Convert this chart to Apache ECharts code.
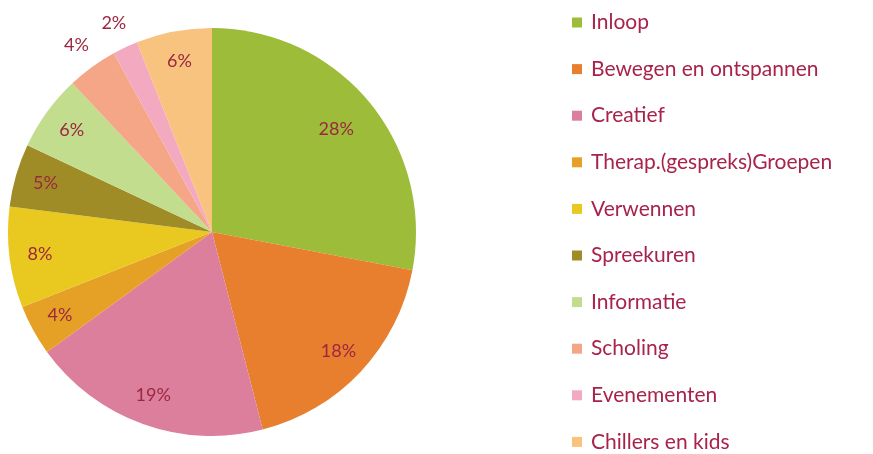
<!DOCTYPE html>
<html>
<head>
<meta charset="utf-8">
<script src="https://cdn.jsdelivr.net/npm/echarts@6/dist/echarts.min.js"></script>
<style>
  html, body { margin: 0; padding: 0; background: #fff; }
  #chart { width: 873px; height: 454px; }
</style>
</head>
<body>
<div id="chart"></div>
<script>
// categories and shares (percent)
var categories = ["Inloop", "Bewegen en ontspannen", "Creatief", "Therap.(gespreks)Groepen",
    "Verwennen", "Spreekuren", "Informatie", "Scholing", "Evenementen", "Chillers en kids"];
var shares = [28, 18, 19, 4, 8, 5, 6, 4, 2, 6];
var colors = ["#9cbc3a", "#e77f2f", "#dc7f9c", "#e4a126", "#e9c81f",
    "#9f8c26", "#c3dd8e", "#f5a686", "#f3aac0", "#f8c37f"];
// small slices get their label outside the pie
var outsideLabel = [false, false, false, false, false, false, false, true, true, false];

var cx = 212, cy = 232, r = 204;

var chart = echarts.init(document.getElementById("chart"));

// middle angle of each slice, clockwise from 12 o'clock
var total = shares.reduce(function (a, b) { return a + b; }, 0);
var midAngles = [];
var acc = 0;
shares.forEach(function (v) {
    midAngles.push((acc + v / 2) / total * 2 * Math.PI);
    acc += v;
});

var data = categories.map(function (name, i) {
    return {name: name, value: shares[i], itemStyle: {color: colors[i]}};
});

chart.setOption({
    backgroundColor: "#ffffff",
    animation: false,
    legend: {
        orient: "vertical",
        left: 572,
        top: 12,
        height: 480,
        padding: 0,
        icon: "rect",
        itemWidth: 10,
        itemHeight: 10,
        itemGap: 25.6,
        textStyle: {
            color: "#a8234b",
            fontSize: 21,
            lineHeight: 20,
            fontFamily: "Lato, 'Open Sans', sans-serif",
            padding: [0, 0, 0, 4]
        },
        data: categories
    },
    series: [{
        type: "pie",
        center: [cx, cy],
        radius: [0, r],
        startAngle: 90,
        clockwise: true,
        silent: true,
        data: data,
        itemStyle: {borderWidth: 0},
        label: {
            show: true,
            position: "inside",
            formatter: "{d}%",
            color: "#9c2740",
            fontSize: 18,
            fontFamily: "Lato, 'Open Sans', sans-serif"
        },
        labelLine: {show: false},
        labelLayout: function (params) {
            var i = params.dataIndex;
            var dist = outsideLabel[i] ? r * 1.13 : (i === 0 ? r * 0.79 : r * 0.85);
            return {
                x: cx + dist * Math.sin(midAngles[i]),
                y: cy - dist * Math.cos(midAngles[i]),
                align: "center",
                verticalAlign: "middle"
            };
        }
    }]
});
</script>
</body>
</html>
